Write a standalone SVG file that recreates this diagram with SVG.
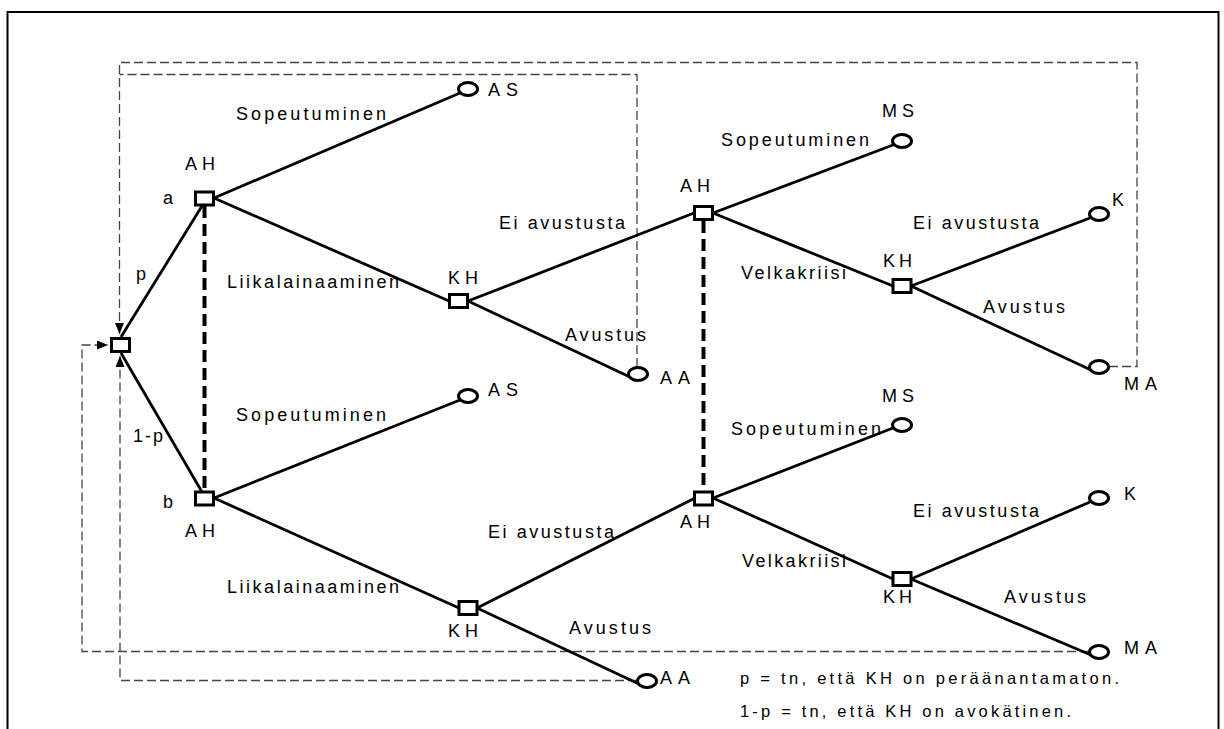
<svg xmlns="http://www.w3.org/2000/svg" width="1224" height="729" viewBox="0 0 1224 729">
<defs>
<style>
.t{font-family:"Liberation Sans",Arial,sans-serif;font-size:18px;fill:#000}
.lg{font-family:"Liberation Sans",Arial,sans-serif;font-size:16.5px;fill:#000}
.e{stroke:#000;stroke-width:2.8;fill:none}
.sq{fill:#fff;stroke:#000;stroke-width:3}
.ci{fill:#fff;stroke:#000;stroke-width:3}
.td{stroke:#000;stroke-width:4;stroke-dasharray:12 6;fill:none}
.dd{stroke:#444;stroke-width:1.3;stroke-dasharray:9 4;fill:none}
</style>
<marker id="ar" markerUnits="userSpaceOnUse" markerWidth="12" markerHeight="10" refX="11" refY="4.5" orient="auto">
<path d="M0,0 L11,4.5 L0,9 z" fill="#000"/>
</marker>
</defs>
<rect width="1224" height="729" fill="#fff"/>
<path d="M7.5,729 V12 H1218.5 V729" fill="none" stroke="#000" stroke-width="2"/>

<g id="connectors">
<path class="dd" d="M1109,366.5 H1137 V62.5 H119.5 V334" marker-end="url(#ar)"/>
<path class="dd" d="M637,367 V74.5 H119.5"/>
<path class="dd" d="M1089,651.5 H82 V345 H108" marker-end="url(#ar)"/>
<path class="dd" d="M637,680.5 H120 V356" marker-end="url(#ar)"/>
<path class="td" d="M204.5,206 V491"/>
<path class="td" d="M703.5,221 V491"/>
<path class="e" d="M121,337 L202,206"/>
<path class="e" d="M121,353 L202,492"/>
<path class="e" d="M214,198 L460,93"/>
<path class="e" d="M214,198 L449,301"/>
<path class="e" d="M468,301 L694,213"/>
<path class="e" d="M468,301 L630,377"/>
<path class="e" d="M713,213 L893,145"/>
<path class="e" d="M713,213 L893,286"/>
<path class="e" d="M911,286 L1090,218"/>
<path class="e" d="M911,286 L1091,370"/>
<path class="e" d="M214,498 L460,400"/>
<path class="e" d="M214,498 L459,608"/>
<path class="e" d="M477,608 L695,498"/>
<path class="e" d="M477,608 L639,684"/>
<path class="e" d="M713,498 L893,428"/>
<path class="e" d="M713,498 L893,579"/>
<path class="e" d="M911,579 L1090,502"/>
<path class="e" d="M911,579 L1091,655"/>
</g>

<g id="root"><rect class="sq" x="111.5" y="338.5" width="18" height="13"/></g>
<g id="nodeA"><rect class="sq" x="195.5" y="192" width="18" height="13"/>
<text class="t" x="185" y="170" textLength="30" lengthAdjust="spacing">AH</text>
<text class="t" x="163" y="204">a</text></g>
<g id="nodeB"><rect class="sq" x="195.5" y="492" width="18" height="13"/>
<text class="t" x="185" y="537" textLength="30" lengthAdjust="spacing">AH</text>
<text class="t" x="163" y="508">b</text></g>
<text class="t" x="136" y="280">p</text>
<text class="t" x="133" y="442" textLength="30" lengthAdjust="spacing">1-p</text>

<g id="edgeLabels">
<text class="t" x="236" y="120" textLength="150" lengthAdjust="spacing">Sopeutuminen</text>
<text class="t" x="227" y="288" textLength="172" lengthAdjust="spacing">Liikalainaaminen</text>
<text class="t" x="499" y="229" textLength="126" lengthAdjust="spacing">Ei avustusta</text>
<text class="t" x="565" y="341" textLength="81" lengthAdjust="spacing">Avustus</text>
<text class="t" x="721" y="146" textLength="148" lengthAdjust="spacing">Sopeutuminen</text>
<text class="t" x="741" y="279" textLength="105" lengthAdjust="spacing">Velkakriisi</text>
<text class="t" x="913" y="229" textLength="126" lengthAdjust="spacing">Ei avustusta</text>
<text class="t" x="983" y="313" textLength="82" lengthAdjust="spacing">Avustus</text>
<text class="t" x="236" y="421" textLength="150" lengthAdjust="spacing">Sopeutuminen</text>
<text class="t" x="227" y="593" textLength="172" lengthAdjust="spacing">Liikalainaaminen</text>
<text class="t" x="488" y="538" textLength="126" lengthAdjust="spacing">Ei avustusta</text>
<text class="t" x="569" y="634" textLength="82" lengthAdjust="spacing">Avustus</text>
<text class="t" x="731" y="435" textLength="150" lengthAdjust="spacing">Sopeutuminen</text>
<text class="t" x="742" y="567" textLength="104" lengthAdjust="spacing">Velkakriisi</text>
<text class="t" x="913" y="517" textLength="126" lengthAdjust="spacing">Ei avustusta</text>
<text class="t" x="1004" y="603" textLength="82" lengthAdjust="spacing">Avustus</text>
</g>

<g id="kh1"><rect class="sq" x="449.5" y="294.5" width="18" height="13"/>
<text class="t" x="448" y="284" textLength="30" lengthAdjust="spacing">KH</text></g>
<g id="ah1"><rect class="sq" x="694.5" y="206.5" width="18" height="13"/>
<text class="t" x="680" y="192" textLength="30" lengthAdjust="spacing">AH</text></g>
<g id="kh2"><rect class="sq" x="893" y="279.5" width="18" height="13"/>
<text class="t" x="883" y="267" textLength="29" lengthAdjust="spacing">KH</text></g>
<g id="kh3"><rect class="sq" x="459" y="601.5" width="18" height="13"/>
<text class="t" x="448" y="637" textLength="30" lengthAdjust="spacing">KH</text></g>
<g id="ah2"><rect class="sq" x="694.5" y="492" width="18" height="13"/>
<text class="t" x="680" y="528" textLength="30" lengthAdjust="spacing">AH</text></g>
<g id="kh4"><rect class="sq" x="893" y="572.5" width="18" height="13"/>
<text class="t" x="883" y="603" textLength="29" lengthAdjust="spacing">KH</text></g>

<g id="as1"><ellipse class="ci" cx="468" cy="89" rx="9.5" ry="6.5"/>
<text class="t" x="488" y="96" textLength="30" lengthAdjust="spacing">AS</text></g>
<g id="aa1"><ellipse class="ci" cx="638" cy="374" rx="9.5" ry="6.5"/>
<text class="t" x="660" y="384" textLength="30" lengthAdjust="spacing">AA</text></g>
<g id="ms1"><ellipse class="ci" cx="902" cy="141" rx="9.5" ry="6.5"/>
<text class="t" x="882" y="117" textLength="32" lengthAdjust="spacing">MS</text></g>
<g id="k1"><ellipse class="ci" cx="1099" cy="214" rx="9.5" ry="6.5"/>
<text class="t" x="1112" y="206">K</text></g>
<g id="ma1"><ellipse class="ci" cx="1099" cy="367" rx="9.5" ry="6.5"/>
<text class="t" x="1124" y="390" textLength="33" lengthAdjust="spacing">MA</text></g>
<g id="as2"><ellipse class="ci" cx="468" cy="396" rx="9.5" ry="6.5"/>
<text class="t" x="488" y="396" textLength="30" lengthAdjust="spacing">AS</text></g>
<g id="aa2"><ellipse class="ci" cx="647" cy="681" rx="9.5" ry="6.5"/>
<text class="t" x="660" y="684" textLength="30" lengthAdjust="spacing">AA</text></g>
<g id="ms2"><ellipse class="ci" cx="902" cy="425" rx="9.5" ry="6.5"/>
<text class="t" x="882" y="402" textLength="32" lengthAdjust="spacing">MS</text></g>
<g id="k2"><ellipse class="ci" cx="1099" cy="498" rx="9.5" ry="6.5"/>
<text class="t" x="1124" y="500">K</text></g>
<g id="ma2"><ellipse class="ci" cx="1099" cy="652" rx="9.5" ry="6.5"/>
<text class="t" x="1124" y="654" textLength="33" lengthAdjust="spacing">MA</text></g>

<g id="legend">
<text class="lg" x="740" y="684" textLength="379" lengthAdjust="spacing">p = tn, että KH on peräänantamaton.</text>
<text class="lg" x="740" y="717" textLength="331" lengthAdjust="spacing">1-p = tn, että KH on avokätinen.</text>
</g>
</svg>
